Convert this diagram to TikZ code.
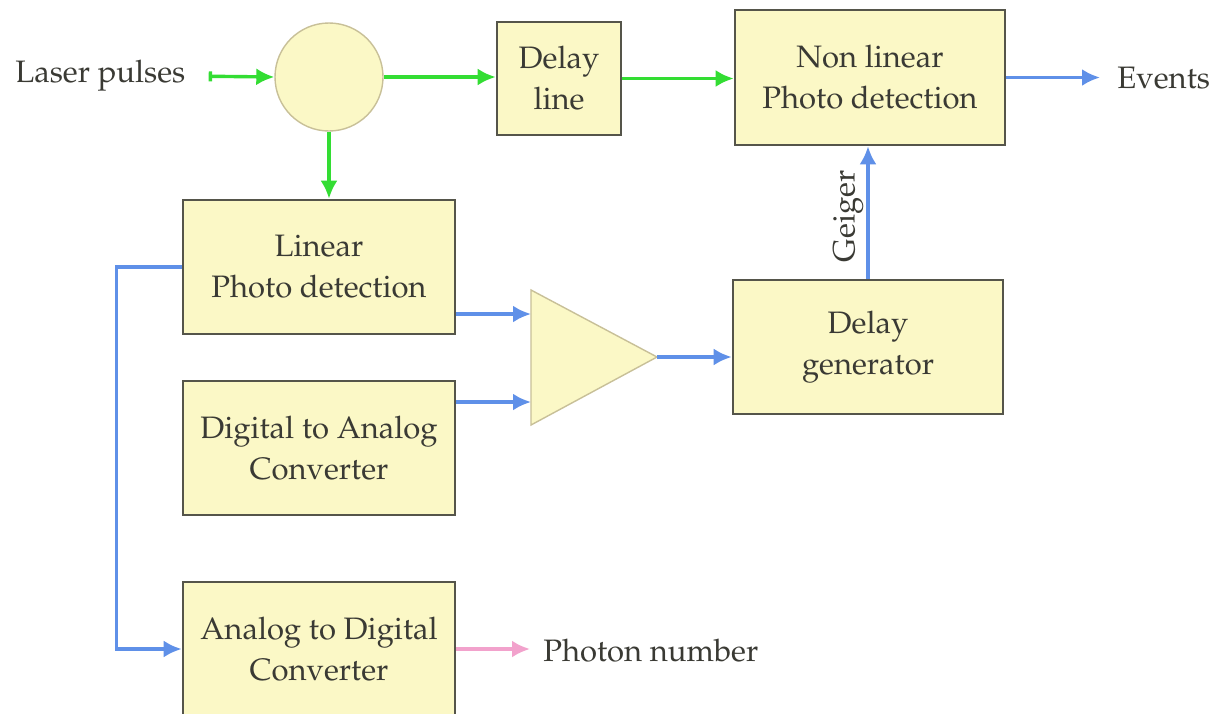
\documentclass[tikz,border=0pt]{standalone}
\usepackage[T1]{fontenc}
\usepackage{mathpazo}
\usetikzlibrary{arrows.meta}
\definecolor{boxfill}{HTML}{FBF8C6}
\definecolor{boxdraw}{HTML}{55554A}
\definecolor{circdraw}{HTML}{C8C098}
\definecolor{gr}{HTML}{33DD33}
\definecolor{bl}{HTML}{5F90E8}
\definecolor{pk}{HTML}{F2A2CC}
\definecolor{tx}{HTML}{3A3A34}
\begin{document}
\begin{tikzpicture}[x=0.5pt,y=-0.5pt,
  font=\fontsize{15.5}{20.5}\selectfont,
  block/.style={draw=boxdraw, line width=1.3pt, fill=boxfill, align=center, inner sep=0pt, text=tx},
  lbl/.style={inner sep=0pt, text=tx},
  wire/.style={line width=1.7pt, -{Latex[length=9pt,width=8.5pt]}},
  gwire/.style={wire, draw=gr},
  bwire/.style={wire, draw=bl},
  pwire/.style={wire, draw=pk}]
\useasboundingbox (0,0) rectangle (1226,713);
\fill[white] (0,0) rectangle (1226,713);
% nodes
\node[lbl, anchor=west] (laser) at (15,76) {Laser pulses};
\node[circle, draw=circdraw, line width=0.7pt, fill=boxfill, minimum size=54pt, inner sep=0pt] (split) at (329,77) {};
\node[block, minimum width=62pt, minimum height=56.5pt] (dl) at (559,78.5) {Delay\\line};
\node[block, minimum width=135pt, minimum height=67.5pt] (nl) at (870,77.5) {Non linear\\Photo detection};
\node[lbl, anchor=west] (ev) at (1117,78) {Events};
\node[block, minimum width=136pt, minimum height=67pt] (lin) at (319,267) {Linear\\Photo detection};
\node[block, minimum width=136pt, minimum height=67pt] (dac) at (319,448) {Digital to Analog\\Converter};
\node[block, minimum width=136pt, minimum height=67pt] (adc) at (319,649) {Analog to Digital\\Converter};
\node[block, minimum width=135pt, minimum height=67pt] (dg) at (868,347) {Delay\\generator};
\node[lbl, anchor=west] (ph) at (543,651) {Photon number};
% amplifier
\coordinate (ampA) at (531,290);
\coordinate (ampB) at (531,425);
\coordinate (ampO) at (657,357);
\coordinate (amp1) at (531,314);
\coordinate (amp2) at (531,402);
\draw[draw=circdraw, fill=boxfill, line width=0.7pt] (ampA) -- (ampO) -- (ampB) -- cycle;
% connectors
\draw[gwire, {Bar[width=5pt]}-{Latex[length=9pt,width=8.5pt]}, shorten <=11.5pt] (laser.east) -- (split.west);
\draw[gwire] (split.east) -- (split.east -| dl.west);
\draw[gwire] (dl.east) -- (dl.east -| nl.west);
\draw[gwire] (split.south) -- (split.south |- lin.north);
\draw[bwire, shorten >=8.5pt] (nl.east) -- (nl.east -| ev.west);
\draw[bwire] (lin.east |- amp1) -- (amp1);
\draw[bwire] (dac.east |- amp2) -- (amp2);
\draw[bwire] (ampO) -- (ampO -| dg.west);
\draw[bwire] (dg.north) -- (dg.north |- nl.south) node[pos=0.47, sloped, above, lbl, inner sep=1.5pt] (geiger) {Geiger};
\draw[bwire] (lin.west) -- ++(-65,0) |- (adc.west);
\draw[pwire, shorten >=6.5pt] (adc.east) -- (adc.east -| ph.west);
\end{tikzpicture}
\end{document}
